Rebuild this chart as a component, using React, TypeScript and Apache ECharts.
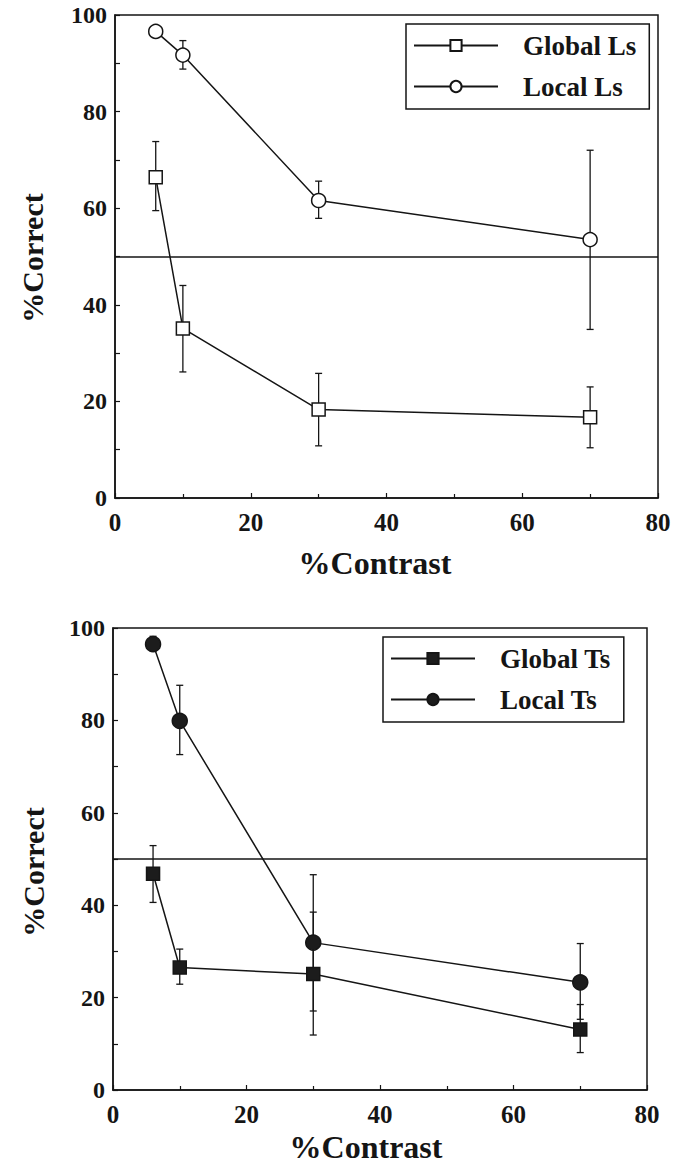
import React, { useEffect, useRef } from "react";
import * as echarts from "echarts";

// ---- data ----
const contrast = [6, 10, 30, 70];

const globalLs = [66.4, 35.1, 18.3, 16.7];
const globalLsLow = [59.5, 26.1, 10.8, 10.4];
const globalLsHigh = [73.8, 44.0, 25.8, 23.0];

const localLs = [96.6, 91.7, 61.6, 53.5];
const localLsLow = [95.8, 88.8, 57.9, 34.9];
const localLsHigh = [97.4, 94.7, 65.6, 72.0];

const globalTs = [46.8, 26.5, 25.1, 13.1];
const globalTsLow = [40.6, 22.9, 11.9, 8.1];
const globalTsHigh = [52.9, 30.5, 38.5, 18.5];

const localTs = [96.5, 79.9, 31.9, 23.3];
const localTsLow = [95.0, 72.6, 17.1, 15.3];
const localTsHigh = [98.2, 87.6, 46.6, 31.7];

const chanceLevel = 50;
const seriesNames = ["Global Ls", "Local Ls", "Global Ts", "Local Ts"];
const axisTitleX = "%Contrast";
const axisTitleY = "%Correct";

const FONT = "'Liberation Serif', 'DejaVu Serif', serif";
const INK = "#151515";

const pts = (ys: number[]) => contrast.map((x, i) => [x, ys[i]]);
const errs = (lo: number[], hi: number[]) => contrast.map((x, i) => [x, lo[i], hi[i]]);

const errorRender = (params: any, api: any) => {
  const x = api.value(0);
  const lo = api.coord([x, api.value(1)]);
  const hi = api.coord([x, api.value(2)]);
  const w = 3.5;
  const st = { stroke: INK, lineWidth: 1.3 };
  return {
    type: "group",
    children: [
      { type: "line", shape: { x1: lo[0], y1: lo[1], x2: hi[0], y2: hi[1] }, style: st },
      { type: "line", shape: { x1: lo[0] - w, y1: lo[1], x2: lo[0] + w, y2: lo[1] }, style: st },
      { type: "line", shape: { x1: hi[0] - w, y1: hi[1], x2: hi[0] + w, y2: hi[1] }, style: st },
    ],
  };
};

const xAxisCfg = (gridIndex: number) => ({
  type: "value",
  gridIndex,
  min: 0,
  max: 80,
  interval: 20,
  axisLine: { show: true, lineStyle: { color: INK, width: 1.5 } },
  axisTick: { show: true, inside: true, length: 5, lineStyle: { color: INK, width: 1.2 } },
  minorTick: { show: true, splitNumber: 2, length: 4, lineStyle: { color: INK, width: 1.2 } },
  splitLine: { show: false },
  axisLabel: { color: INK, fontFamily: FONT, fontWeight: "bold", fontSize: 25, margin: 12 },
});

const yAxisCfg = (gridIndex: number) => ({
  type: "value",
  gridIndex,
  min: 0,
  max: 100,
  interval: 20,
  axisLine: { show: true, lineStyle: { color: INK, width: 1.5 } },
  axisTick: { show: true, inside: true, length: 5, lineStyle: { color: INK, width: 1.2 } },
  minorTick: { show: true, splitNumber: 2, length: 5, lineStyle: { color: INK, width: 1.2 } },
  splitLine: { show: false },
  axisLabel: { color: INK, fontFamily: FONT, fontWeight: "bold", fontSize: 24, margin: 8 },
});

const lineSeries = (name: string, data: number[][], idx: number, symbol: string, size: number, filled: boolean, withMark: boolean) => ({
  type: "line",
  name,
  xAxisIndex: idx,
  yAxisIndex: idx,
  data,
  symbol,
  symbolSize: size,
  showSymbol: true,
  z: 5,
  lineStyle: { color: INK, width: 1.5 },
  itemStyle: { color: filled ? "#1c1c1c" : "#ffffff", borderColor: INK, borderWidth: 1.5, opacity: 1 },
  markLine: withMark
    ? {
        silent: true,
        symbol: "none",
        label: { show: false },
        lineStyle: { color: INK, width: 1.5, type: "solid" },
        data: [{ yAxis: chanceLevel }],
      }
    : undefined,
});

const errSeries = (data: number[][], idx: number) => ({
  type: "custom",
  xAxisIndex: idx,
  yAxisIndex: idx,
  data,
  encode: { x: 0, y: [1, 2] },
  renderItem: errorRender,
  z: 3,
  silent: true,
});

const legendCfg = (left: number, top: number, data: string[]) => ({
  orient: "vertical",
  left,
  top,
  data,
  itemWidth: 84,
  itemHeight: 14,
  itemGap: 14,
  padding: [8, 13, 9, 7],
  borderColor: INK,
  borderWidth: 1.5,
  backgroundColor: "#fff",
  selectedMode: false,
  textStyle: { color: INK, fontFamily: FONT, fontWeight: "bold", fontSize: 27, padding: [0, 0, 0, 20] },
});

const titleText = (text: string, x: number, y: number, rotate: boolean, size: number) => ({
  type: "text",
  x,
  y,
  rotation: rotate ? Math.PI / 2 : 0,
  style: {
    text,
    fill: INK,
    font: `bold ${size}px ${FONT}`,
    textAlign: "center",
    textVerticalAlign: "middle",
  },
});

export default function App() {
  const ref = useRef<HTMLDivElement>(null);
  useEffect(() => {
    document.body.style.margin = "0";
    const chart = echarts.init(ref.current!, undefined, { renderer: "svg" });
    chart.setOption({
      animation: false,
      backgroundColor: "#ffffff",
      grid: [
        { left: 115, top: 15, width: 543, height: 483, show: true, borderColor: INK, borderWidth: 1.5, backgroundColor: "transparent" },
        { left: 113, top: 628, width: 534, height: 462, show: true, borderColor: INK, borderWidth: 1.5, backgroundColor: "transparent" },
      ],
      xAxis: [xAxisCfg(0), xAxisCfg(1)],
      yAxis: [yAxisCfg(0), yAxisCfg(1)],
      legend: [legendCfg(406, 24, [seriesNames[0], seriesNames[1]]), legendCfg(383, 637, [seriesNames[2], seriesNames[3]])],
      series: [
        errSeries(errs(globalLsLow, globalLsHigh), 0),
        errSeries(errs(localLsLow, localLsHigh), 0),
        lineSeries(seriesNames[0], pts(globalLs), 0, "rect", 13, false, true),
        lineSeries(seriesNames[1], pts(localLs), 0, "circle", 14, false, false),
        errSeries(errs(globalTsLow, globalTsHigh), 1),
        errSeries(errs(localTsLow, localTsHigh), 1),
        lineSeries(seriesNames[2], pts(globalTs), 1, "rect", 13, true, true),
        lineSeries(seriesNames[3], pts(localTs), 1, "circle", 15, true, false),
      ],
      graphic: [
        titleText(axisTitleY, 32, 258, true, 30),
        titleText(axisTitleX, 375, 563, false, 32),
        titleText(axisTitleY, 33, 872, true, 30),
        titleText(axisTitleX, 366, 1147, false, 32),
      ],
    });
    return () => chart.dispose();
  }, []);
  return <div ref={ref} style={{ width: 687, height: 1164 }} />;
}
